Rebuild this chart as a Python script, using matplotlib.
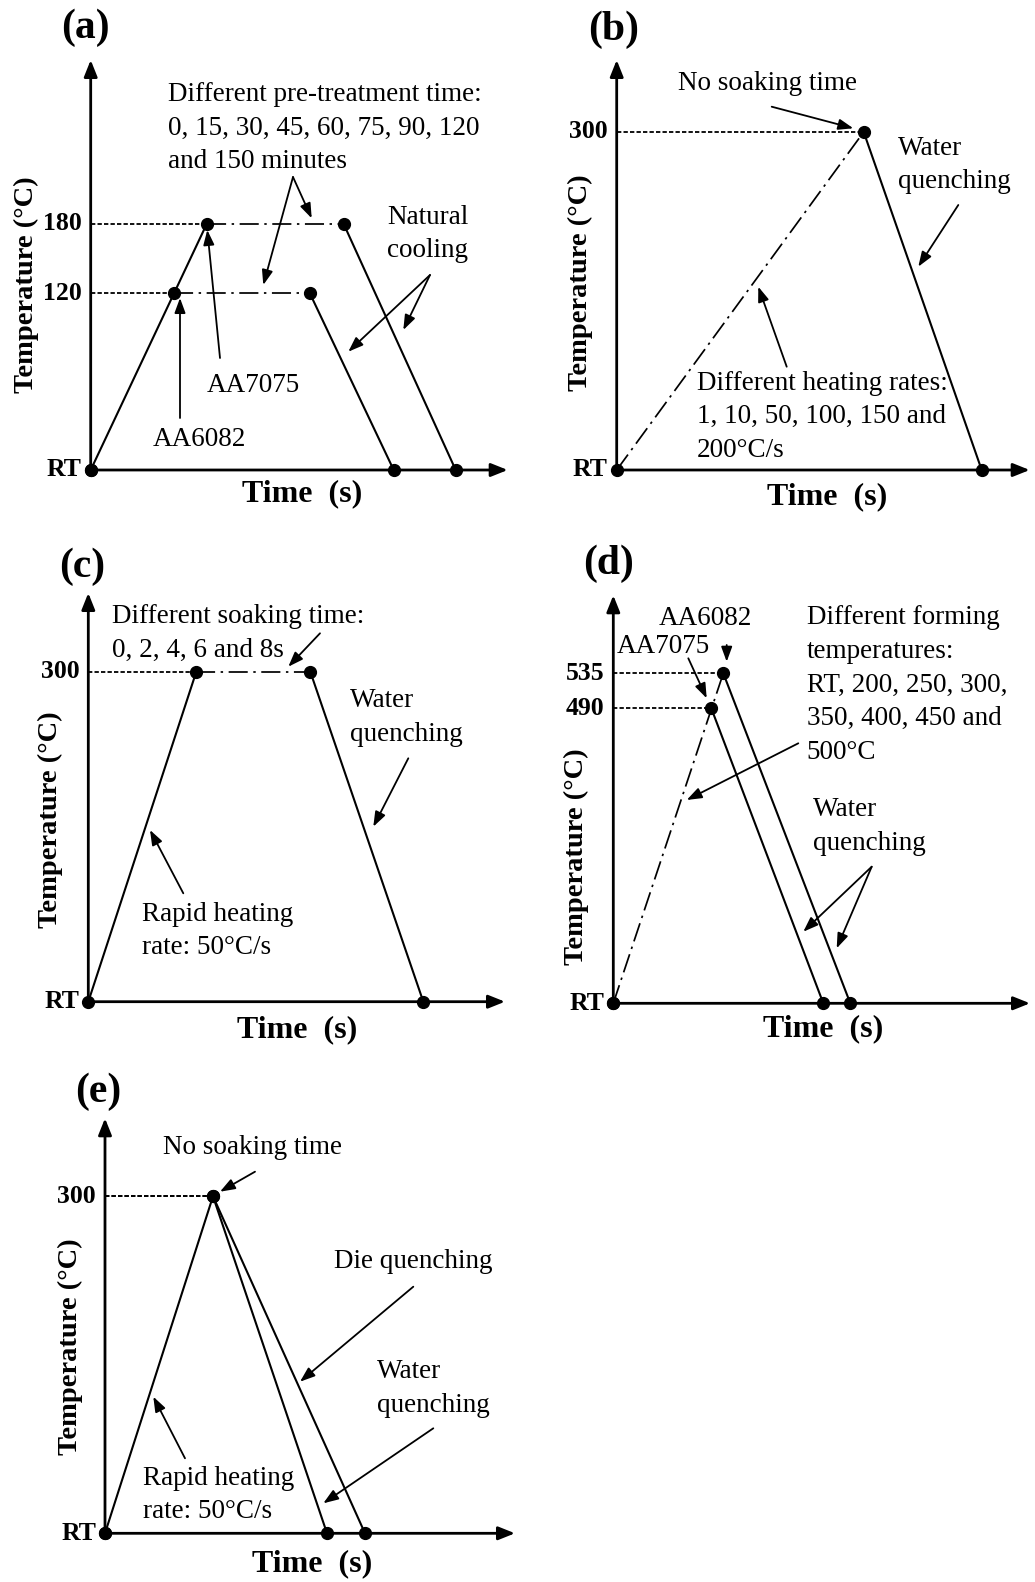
import matplotlib
matplotlib.use("Agg")
import matplotlib.pyplot as plt

plt.rcParams["font.family"] = ["Liberation Serif", "DejaVu Serif"]

W, H = 1035, 1582

# schematic values: time (arbitrary units) and temperature level heights
A_TICKS = ["RT", "120", "180"]
A_TICK_Y = [0, 177, 246]
A_7075_T = [0, 116, 253, 365]
A_7075_Y = [0, 246, 246, 0]
A_6082_T = [0, 83, 219, 303]
A_6082_Y = [0, 177, 177, 0]

B_TICKS = ["RT", "300"]
B_TICK_Y = [0, 338]
B_T = [0, 247, 365]
B_Y = [0, 338, 0]

C_TICKS = ["RT", "300"]
C_TICK_Y = [0, 330]
C_T = [0, 108, 222, 335]
C_Y = [0, 330, 330, 0]

D_TICKS = ["RT", "490", "535"]
D_TICK_Y = [0, 295, 330]
D_6082_T = [0, 110, 237]
D_6082_Y = [0, 330, 0]
D_7075_T = [0, 98, 210]
D_7075_Y = [0, 295, 0]

E_TICKS = ["RT", "300"]
E_TICK_Y = [0, 337]
E_WATER_T = [0, 108, 222]
E_DIE_T = [0, 108, 260]
E_Y = [0, 337, 0]

ANN = 19.5
DASH = (2.4, 1.2)
DASHDOT = (11, 3.2, 1.4, 3.2)


def panel_axes(fig, ox, oy):
    x0, x1, y0, y1 = -110, 430, -60, 470
    ax = fig.add_axes([(ox + x0) / W, (H - oy + y0) / H, (x1 - x0) / W, (y1 - y0) / H])
    ax.set_xlim(x0, x1)
    ax.set_ylim(y0, y1)
    ax.axis("off")
    return ax


def arrow(ax, start, end, lw=1.3, hl=0.9, hw=0.33, ms=10):
    ax.annotate("", xy=end, xytext=start,
                arrowprops=dict(arrowstyle=f"-|>,head_length={hl},head_width={hw}",
                                lw=lw, color="black", shrinkA=0, shrinkB=0,
                                mutation_scale=ms),
                annotation_clip=False)


def frame(ax, label, top, right, ticks, tick_y, lab_pos, ylab_pos, xlab_pos):
    arrow(ax, (0, 0), (0, top), lw=2.0, hl=1.0, hw=0.4)
    arrow(ax, (0, 0), (right, 0), lw=2.0, hl=1.0, hw=0.4)
    for t, y in zip(ticks, tick_y):
        ax.text(-9, y, t, ha="right", va="center", fontsize=18.5, fontweight="bold")
    ax.text(*lab_pos, label, ha="center", va="center", fontsize=30, fontweight="bold")
    ax.text(*ylab_pos, "Temperature (°C)", rotation=90, ha="center", va="center",
            fontsize=20.5, fontweight="bold")
    ax.text(*xlab_pos, "Time  (s)", ha="center", va="center", fontsize=23,
            fontweight="bold")


def seg(ax, t, y, i, style):
    if style == "solid":
        ax.plot(t[i:i + 2], y[i:i + 2], color="black", lw=1.5, solid_capstyle="round")
    elif style == "dashdot":
        ax.plot(t[i:i + 2], y[i:i + 2], color="black", lw=1.25, dashes=DASHDOT)


def profile(ax, t, y, ramp="solid"):
    ax.plot([0, t[1]], [y[1], y[1]], color="black", lw=1.3, dashes=DASH)
    if ramp:
        seg(ax, t, y, 0, ramp)
    if len(t) == 4:
        seg(ax, t, y, 1, "dashdot")
    seg(ax, t, y, len(t) - 2, "solid")
    ax.plot(t, y, "o", color="black", ms=8.5, zorder=5, clip_on=False)


def block(ax, x, y, s, ha="left"):
    ax.text(x, y, s, ha=ha, va="center", fontsize=ANN, linespacing=1.45)


fig = plt.figure(figsize=(W / 100, H / 100), dpi=100)

# (a)
ax = panel_axes(fig, 90.7, 470)
frame(ax, "(a)", 410, 417, A_TICKS, A_TICK_Y, (-5.7, 442), (-64.7, 185), (211, -23.3))
profile(ax, A_7075_T, A_7075_Y)
profile(ax, A_6082_T, A_6082_Y, ramp=None)
block(ax, 77.3, 341.7, "Different pre-treatment time:\n0, 15, 30, 45, 60, 75, 90, 120\nand 150 minutes")
arrow(ax, (202.3, 293), (221, 251.7))
arrow(ax, (202.3, 293), (172.6, 185))
block(ax, 162.3, 85, "AA7075", ha="center")
arrow(ax, (129.3, 112), (116.6, 240))
block(ax, 108.3, 31, "AA6082", ha="center")
arrow(ax, (89.3, 52), (89.3, 172))
block(ax, 337.3, 236, "Natural\ncooling", ha="center")
arrow(ax, (339.3, 195), (312.6, 140))
arrow(ax, (339.3, 195), (257.6, 118.3))

# (b)
ax = panel_axes(fig, 616.7, 470)
frame(ax, "(b)", 410, 413, B_TICKS, B_TICK_Y, (-3.4, 440), (-36.7, 187), (210, -26.7))
profile(ax, B_T, B_Y, ramp="dashdot")
block(ax, 150.6, 386.7, "No soaking time", ha="center")
arrow(ax, (155, 363.3), (236.6, 341.7))
block(ax, 281.6, 305, "Water\nquenching")
arrow(ax, (341.6, 265), (301.6, 203.3))
block(ax, 80, 53.3, "Different heating rates:\n1, 10, 50, 100, 150 and\n200°C/s")
arrow(ax, (170, 103.3), (141.6, 183.3))

# (c)
ax = panel_axes(fig, 88.3, 1001.7)
frame(ax, "(c)", 408.7, 416.7, C_TICKS, C_TICK_Y, (-6.6, 435), (-38.3, 181.7), (208.4, -28.3))
profile(ax, C_T, C_Y)
block(ax, 23.4, 368.4, "Different soaking time:\n0, 2, 4, 6 and 8s")
arrow(ax, (231.7, 368.4), (200, 335))
block(ax, 261.7, 284.2, "Water\nquenching")
arrow(ax, (320, 243.4), (285, 175))
block(ax, 53.4, 70.8, "Rapid heating\nrate: 50°C/s")
arrow(ax, (95, 108.4), (61.7, 171.7))

# (d)
ax = panel_axes(fig, 613.3, 1003.3)
frame(ax, "(d)", 408, 416.7, D_TICKS, D_TICK_Y, (-5, 440), (-36.6, 146.6), (210, -25))
profile(ax, D_6082_T, D_6082_Y, ramp="dashdot")
profile(ax, D_7075_T, D_7075_Y, ramp=None)
block(ax, 91.7, 385, "AA6082", ha="center")
arrow(ax, (113.4, 358.3), (113.4, 341.6))
block(ax, 50, 356.6, "AA7075", ha="center")
arrow(ax, (75, 345), (93.4, 305))
block(ax, 193.4, 318.3, "Different forming\ntemperatures:\nRT, 200, 250, 300,\n350, 400, 450 and\n500°C")
arrow(ax, (185, 260), (73.4, 203.3))
block(ax, 200, 176.6, "Water\nquenching")
arrow(ax, (258.4, 136.6), (190, 71.6))
arrow(ax, (258.4, 136.6), (223.4, 55))

# (e)
ax = panel_axes(fig, 105, 1533.3)
frame(ax, "(e)", 415, 410, E_TICKS, E_TICK_Y, (-6.7, 441.6), (-35, 186.6), (206.7, -30))
profile(ax, E_DIE_T, E_Y)
profile(ax, E_WATER_T, E_Y, ramp=None)
block(ax, 147.3, 386, "No soaking time", ha="center")
arrow(ax, (150, 361.6), (115, 341.6))
block(ax, 308.3, 271.6, "Die quenching", ha="center")
arrow(ax, (308.3, 246.6), (195, 151.6))
block(ax, 271.7, 145, "Water\nquenching")
arrow(ax, (328.3, 105), (218.3, 30))
block(ax, 38.3, 38.3, "Rapid heating\nrate: 50°C/s")
arrow(ax, (80, 75), (48.3, 136.6))

fig.savefig("out.png", dpi=100, facecolor="white")
